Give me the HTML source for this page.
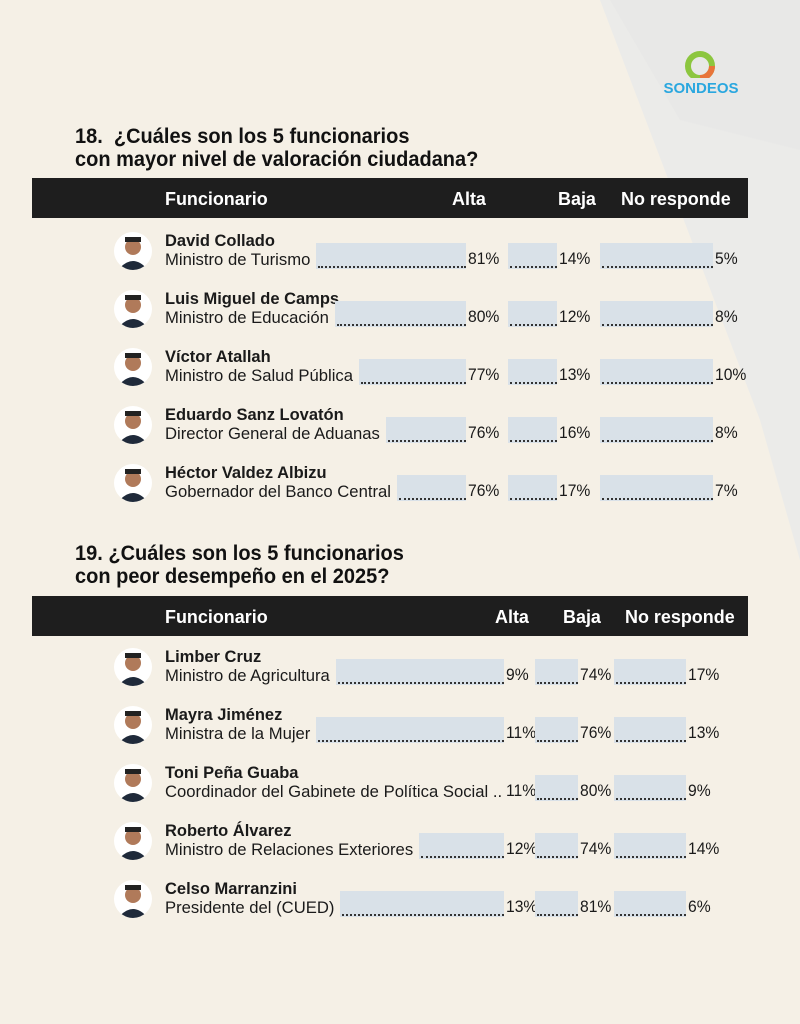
<!DOCTYPE html>
<html><head><meta charset="utf-8">
<style>
*{margin:0;padding:0;box-sizing:border-box}
body{width:800px;height:1024px;overflow:hidden;background:#f5f0e6;font-family:"Liberation Sans",sans-serif;color:#1a1a1a;position:relative}
.abs{position:absolute}
.h{font-weight:bold;font-size:21.5px;line-height:23px;color:#111;transform:scaleX(0.93);transform-origin:left top;white-space:nowrap}
.bar{background:#1e1e1e;color:#fff;font-weight:bold;font-size:18.5px;height:40px}
.bar span{position:absolute;top:10px;transform:scaleX(0.97);transform-origin:left top;white-space:nowrap}
.nm{font-weight:bold;font-size:17px;white-space:nowrap;transform:scaleX(0.97);transform-origin:left top}
.tt{font-size:17px;white-space:nowrap;transform:scaleX(0.98);transform-origin:left top}
.bx{background:#d9e1e8;height:26px}
.ld{border-bottom:2px dotted #333;height:1px}
.pc{font-size:16.5px;transform:scaleX(0.95);transform-origin:left top}
.ph{width:38px;height:38px;border-radius:50%;background:#fff;overflow:hidden}
</style></head><body>
<svg class="abs" style="left:0;top:0" width="800" height="1024">
<polygon points="600,0 800,0 800,560 760,420 " fill="#ebebe9"/>
<polygon points="610,0 800,0 800,150 680,120" fill="#e8e8e7"/>
</svg>
<div class="abs" style="left:656px;top:48px;width:90px;height:50px">
<svg width="90" height="30" style="position:absolute;left:0;top:0"><circle cx="44" cy="18" r="12" fill="none" stroke="#8cc63f" stroke-width="6"/><path d="M44 30 A12 12 0 0 0 56 18" fill="none" stroke="#e8743a" stroke-width="6"/></svg>
<div style="position:absolute;top:32px;left:0;width:90px;text-align:center;color:#2aa7df;font-weight:bold;font-size:15px">SONDEOS</div>
</div>
<div class="abs h" style="left:75px;top:125px">18.&nbsp; ¿Cuáles son los 5 funcionarios<br>con mayor nivel de valoración ciudadana?</div>
<div class="abs bar" style="left:32px;top:178px;width:716px"><span style="left:133px">Funcionario</span><span style="left:420px">Alta</span><span style="left:526px">Baja</span><span style="left:589px">No responde</span></div>
<div class="abs h" style="left:75px;top:542px">19. ¿Cuáles son los 5 funcionarios<br>con peor desempeño en el 2025?</div>
<div class="abs bar" style="left:32px;top:596px;width:716px"><span style="left:133px">Funcionario</span><span style="left:463px">Alta</span><span style="left:531px">Baja</span><span style="left:593px">No responde</span></div>
<div id="rows"></div>
<script>
const names1=["David Collado","Luis Miguel de Camps","Víctor Atallah","Eduardo Sanz Lovatón","Héctor Valdez Albizu"];
const titles1=["Ministro de Turismo","Ministro de Educación","Ministro de Salud Pública","Director General de Aduanas","Gobernador del Banco Central"];
const alta1=[81,80,77,76,76];
const baja1=[14,12,13,16,17];
const nr1=[5,8,10,8,7];
const names2=["Limber Cruz","Mayra Jiménez","Toni Peña Guaba","Roberto Álvarez","Celso Marranzini"];
const titles2=["Ministro de Agricultura","Ministra de la Mujer","Coordinador del Gabinete de Política Social ..","Ministro de Relaciones Exteriores","Presidente del (CUED)"];
const alta2=[9,11,11,12,13];
const baja2=[74,76,80,74,81];
const nr2=[17,13,9,14,6];
const root=document.getElementById('rows');
function div(cls,css,txt){const d=document.createElement('div');d.className='abs '+cls;d.style.cssText=css;if(txt!==undefined)d.textContent=txt;root.appendChild(d);return d;}
function table(names,titles,alta,baja,nr,y0,cfg){
 names.forEach((n,i)=>{
  const y=y0+i*58;
  const p=div('ph',`left:114px;top:${y-8}px`);
  
  
  p.innerHTML='<svg width="38" height="38"><circle cx="19" cy="15" r="8" fill="#b07a5a"/><path d="M4 38 Q19 20 34 38Z" fill="#1f2a3a"/><rect x="11" y="5" width="16" height="5" fill="#222"/></svg>';
  const nm=div('nm',`left:165px;top:${y-9}px`,n);
  
  
  const tt=div('tt',`left:165px;top:${y+10}px`,titles[i]);
  
  
  const tw=tt.getBoundingClientRect().width;
  const segs=[[165+tw+6,cfg.a1,alta[i],'alta-value'],[cfg.b0,cfg.b1,baja[i],'baja-value'],[cfg.n0,cfg.n1,nr[i],'no-responde-value']];
  segs.forEach(s=>{
   const x0=s[0],x1=s[1];
   if(x1>x0){
    const b=div('bx',`left:${x0}px;top:${y+3}px;width:${x1-x0}px`);
    
    
    const l=div('ld',`left:${x0+2}px;top:${y+26}px;width:${x1-x0-2}px`);
    
    
   }
   const v=div('pc',`left:${x1+2}px;top:${y+10}px`,s[2]+'%');
   
   
  });
 });
}
table(names1,titles1,alta1,baja1,nr1,240,{a1:466,b0:508,b1:557,n0:600,n1:713});
table(names2,titles2,alta2,baja2,nr2,656,{a1:504,b0:535,b1:578,n0:614,n1:686});
</script>
</body></html>
